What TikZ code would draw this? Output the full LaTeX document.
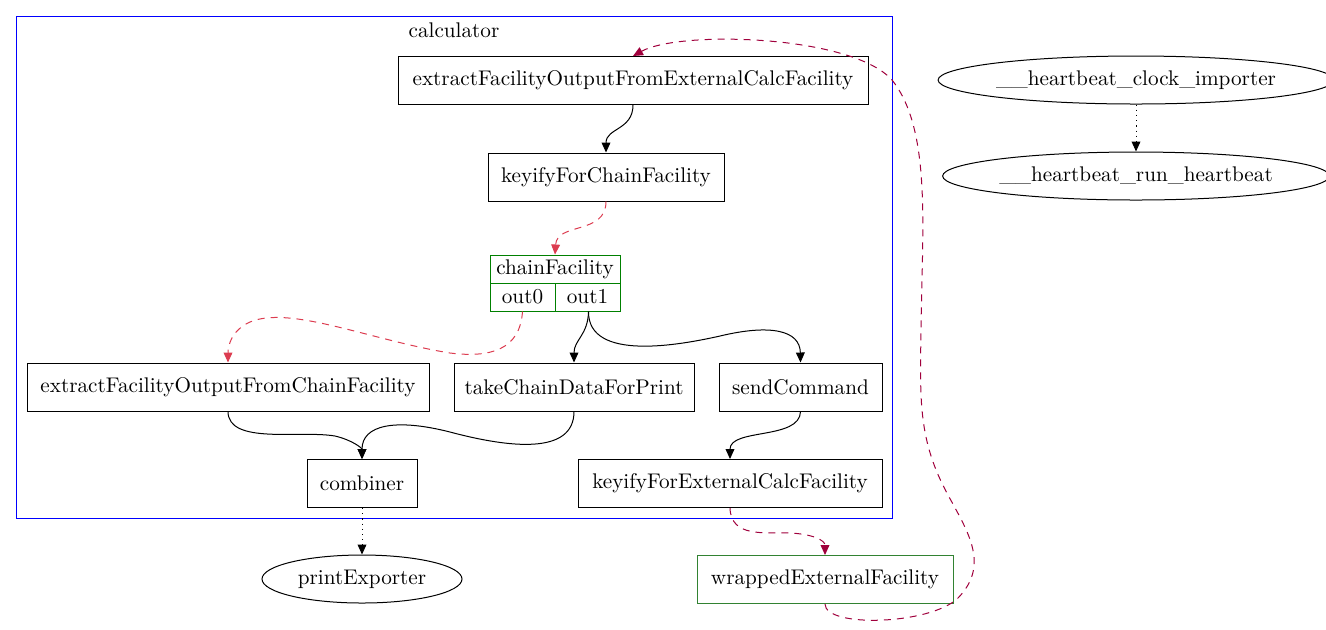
\documentclass[tikz,border=0pt]{standalone}
\usetikzlibrary{arrows.meta,shapes.geometric}
\definecolor{edgered}{RGB}{220,60,80}
\definecolor{edgepurp}{RGB}{160,0,60}
\definecolor{recgreen}{RGB}{0,128,0}
\definecolor{wrapgreen}{RGB}{50,130,50}
\definecolor{clusterblue}{RGB}{0,0,255}
\begin{document}
\begin{tikzpicture}[x=0.5pt,y=-0.5pt,
  every node/.style={font=\fontsize{10.6}{12}\selectfont, inner sep=0pt},
  box/.style={draw=black, line width=0.5pt, minimum height=24pt, rectangle},
  oval/.style={draw=black, line width=0.5pt, ellipse},
  rec/.style={draw=recgreen, line width=0.5pt, minimum height=14pt, rectangle},
  edge/.style={line width=0.5pt, -{Triangle[length=5pt,width=4.4pt]}},
  rededge/.style={edge, draw=edgered, dash pattern=on 3.5pt off 3pt},
  purpedge/.style={edge, draw=edgepurp, dash pattern=on 3.5pt off 3pt},
  dotedge/.style={edge, dash pattern=on 0.6pt off 2pt}]
\useasboundingbox (0,0) rectangle (1326,629);
% cluster
\draw[clusterblue, line width=0.5pt] (16,16) rectangle (892,518);
\node (clab) at (454,30) {calculator};
% nodes
\node[box, minimum width=235pt] (ext) at (633,80.5) {extractFacilityOutputFromExternalCalcFacility};
\node[box, minimum width=118pt] (kc) at (606,177) {keyifyForChainFacility};
\node[rec, minimum width=65pt] (cf) at (555,269) {chainFacility};
\node[rec, minimum width=32.5pt] (out0) at (522.5,297) {out0};
\node[rec, minimum width=32.5pt] (out1) at (587.5,297) {out1};
\node[box, minimum width=201pt] (ec) at (228,387) {extractFacilityOutputFromChainFacility};
\node[box, minimum width=120pt] (tc) at (574,387) {takeChainDataForPrint};
\node[box, minimum width=81.5pt] (sc) at (800.5,387) {sendCommand};
\node[box, minimum width=55pt] (comb) at (362,483.5) {combiner};
\node[box, minimum width=152pt] (ke) at (730,483.5) {keyifyForExternalCalcFacility};
\node[oval, minimum width=100pt, minimum height=24pt] (pe) at (362,579) {printExporter};
\node[box, draw=wrapgreen, minimum width=128pt] (wr) at (825,579.5) {wrappedExternalFacility};
\node[oval, minimum width=182pt, minimum height=24pt] (hc) at (1136,80) {\_\_heartbeat\_clock\_importer};
\node[oval, minimum width=179pt, minimum height=24pt] (hr) at (1136,176) {\_\_heartbeat\_run\_heartbeat};
% edges
\draw[edge] (ext.south) .. controls (633,130) and (606,128) .. (kc.north);
\draw[rededge] (kc.south) .. controls (606,235) and (557,222) .. (cf.north);
\draw[rededge] (out0.south) .. controls (520,350) and (490,358) .. (450,353)
   .. controls (370,340) and (290,305) .. (250,322)
   .. controls (232,330) and (228,345) .. (ec.north);
\draw[edge] ([xshift=0.5pt]out1.south) .. controls (588,335) and (574,340) .. (tc.north);
\draw[edge] ([xshift=0.5pt]out1.south) .. controls (588,362) and (680,345) .. (720,336)
   .. controls (770,324) and (800,330) .. (sc.north);
\draw[edge] (ec.south) .. controls (228,445) and (300,430) .. (335,436)
   .. controls (352,440) and (362,448) .. (comb.north);
\draw[edge] (tc.south) .. controls (574,455) and (510,448) .. (450,432)
   .. controls (395,418) and (362,425) .. (comb.north);
\draw[edge] (sc.south) .. controls (800,440) and (730,428) .. (ke.north);
\draw[dotedge] (comb.south) -- (pe.north);
\draw[purpedge] (ke.south) .. controls (731,538) and (765,532) .. (790,533)
   .. controls (812,534) and (825,540) .. (wr.north);
\draw[purpedge] (wr.south) .. controls (825,628) and (930,625) .. (958,598)
   .. controls (990,565) and (968,532) .. (948,495)
   .. controls (918,440) and (920,400) .. (921,330)
   .. controls (922,230) and (932,130) .. (892,80)
   .. controls (852,35) and (680,30) .. (ext.north);
\draw[dotedge] (hc.south) -- (hr.north);
\end{tikzpicture}
\end{document}
